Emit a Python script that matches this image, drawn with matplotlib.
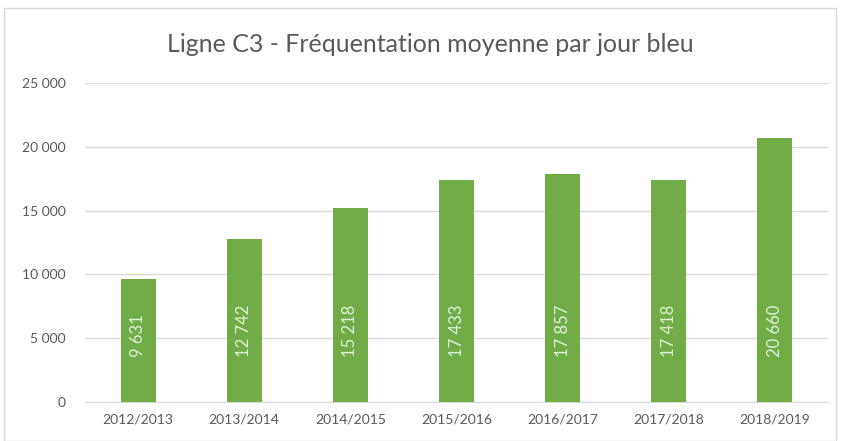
import matplotlib
matplotlib.use("Agg")
import matplotlib.pyplot as plt
from matplotlib.patches import Rectangle

categories = ["2012/2013", "2013/2014", "2014/2015", "2015/2016", "2016/2017", "2017/2018", "2018/2019"]
values = [9631, 12742, 15218, 17433, 17857, 17418, 20660]
yticks = [0, 5000, 10000, 15000, 20000, 25000]
title = "Ligne C3 - Fréquentation moyenne par jour bleu"

def fmt(v):
    return f"{v:,}".replace(",", " ")

plt.rcParams['font.family'] = ['Lato', 'DejaVu Sans']

fig = plt.figure(figsize=(8.43, 4.41), dpi=100)
fig.patches.append(Rectangle((4/843, 0), 832/843, 1 - 8/441, transform=fig.transFigure,
                             fill=False, edgecolor='#d9d9d9', linewidth=1))
ax = fig.add_axes([85/843, 1 - 402/441, 743/843, (402 - 83)/441])

x = list(range(len(categories)))
ax.bar(x, values, width=0.33, color='#70AD47', zorder=3)
ax.set_xlim(-0.5, len(categories) - 0.5)
ax.set_ylim(0, 25000)
ax.set_yticks(yticks)
ax.set_yticklabels([fmt(v) for v in yticks], color='#595959', fontsize=10)
ax.set_xticks(x)
ax.set_xticklabels(categories, color='#595959', fontsize=10)
ax.tick_params(axis='both', length=0)
ax.tick_params(axis='y', pad=14)
ax.tick_params(axis='x', pad=8)
ax.grid(axis='y', color='#d9d9d9', linewidth=1, zorder=0)
for s in ['top', 'right', 'left']:
    ax.spines[s].set_visible(False)
ax.spines['bottom'].set_color('#d9d9d9')

for xi, v in zip(x, values):
    ax.text(xi, 3500, fmt(v), rotation=90, ha='center', va='bottom',
            color='#e2f0d9', fontsize=12, zorder=4)

fig.text(430/843, 1 - 45/441, title, ha='center', va='center', color='#595959', fontsize=18)

fig.savefig("out.png", dpi=100)
